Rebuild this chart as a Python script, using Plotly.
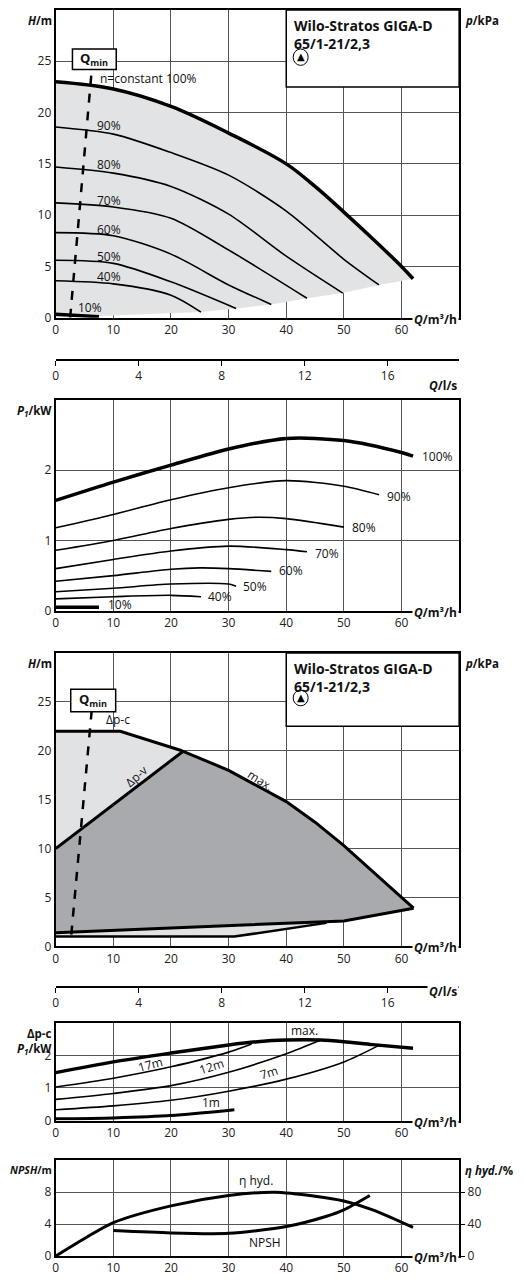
import plotly.graph_objects as go

# -- ---------------------------------------------------------------- datos -- #
q_100 = [0, 10, 20, 30, 40, 45, 50, 55, 60, 62]
h_100 = [23, 22.3, 20.6, 18, 15, 12.8, 10.3, 7.7, 5, 3.8]
q_90 = [0, 10, 20, 30, 40, 50, 56.1]
h_90 = [18.6, 17.9, 16.1, 13.9, 10.4, 5.7, 3.2]
q_80 = [0, 10, 20, 30, 40, 49.8]
h_80 = [14.7, 14.1, 12.8, 10.1, 6.0, 2.4]
q_70 = [0, 10, 20, 30, 43.6]
h_70 = [11.2, 10.8, 9.7, 6.6, 1.9]
q_60 = [0, 10, 20, 30, 37.4]
h_60 = [8.3, 8.0, 6.2, 3.2, 1.3]
q_50 = [0, 10, 20, 31.3]
h_50 = [5.6, 5.3, 3.5, 0.9]
q_40 = [0, 10, 20, 25.2]
h_40 = [3.6, 3.3, 2.2, 0.55]
q_10 = [0, 7.5]
h_10 = [0.35, 0.1]
q_low = [0, 25.2, 31.3, 37.4, 43.6, 49.8, 56.1, 62]
h_low = [0, 0.55, 0.9, 1.3, 1.9, 2.4, 3.2, 3.8]
q_qmin1 = [2.5, 6.3]
h_qmin1 = [0, 24.5]

q_p100 = [0, 10, 20, 30, 40, 50, 60, 62]
p_100 = [1.57, 1.83, 2.07, 2.3, 2.45, 2.42, 2.25, 2.2]
q_p90 = [0, 10, 20, 30, 40, 50, 56.1]
p_90 = [1.18, 1.37, 1.58, 1.75, 1.85, 1.77, 1.65]
q_p80 = [0, 10, 20, 30, 35, 40, 50]
p_80 = [0.86, 1.0, 1.17, 1.3, 1.33, 1.31, 1.19]
q_p70 = [0, 10, 20, 30, 40, 43.6]
p_70 = [0.6, 0.73, 0.85, 0.92, 0.87, 0.84]
q_p60 = [0, 10, 20, 25, 30, 37.4]
p_60 = [0.42, 0.5, 0.59, 0.61, 0.6, 0.56]
q_p50 = [0, 10, 20, 30, 31.3]
p_50 = [0.27, 0.32, 0.38, 0.38, 0.35]
q_p40 = [0, 10, 20, 25.2]
p_40 = [0.17, 0.2, 0.22, 0.2]
q_p10 = [0, 7.5]
p_10 = [0.05, 0.05]

q_max = [21.9, 30, 40, 45, 50, 55, 60, 62.1]
h_max = [20, 18, 14.8, 12.7, 10.3, 7.7, 5, 3.9]
q_dpc = [0, 11.2, 21.9]
h_dpc = [22, 22, 20]
q_dpv = [0, 22]
h_dpv = [10, 19.9]
q_min_line = [0, 50, 62.1]
h_min_line = [1.4, 2.6, 3.9]
q_min_low = [0, 31, 47]
h_min_low = [1.0, 1.0, 2.4]
q_qmin2 = [2.7, 6.3]
h_qmin2 = [1.2, 24.5]

q_pmax = [0, 10, 20, 30, 35, 40, 46, 50, 55, 62]
p_max = [1.47, 1.8, 2.07, 2.32, 2.42, 2.47, 2.47, 2.42, 2.33, 2.22]
q_17 = [0, 10, 20, 30, 34]
p_17 = [1.03, 1.3, 1.65, 2.1, 2.35]
q_12 = [0, 10, 20, 30, 40, 46]
p_12 = [0.65, 0.83, 1.07, 1.48, 2.05, 2.47]
q_7 = [0, 10, 20, 30, 40, 50, 56]
p_7 = [0.33, 0.45, 0.62, 0.9, 1.27, 1.8, 2.3]
q_1 = [0, 10, 20, 31]
p_1 = [0.05, 0.08, 0.15, 0.33]

q_eta = [0, 5, 10, 20, 30, 38, 45, 50, 55, 62]
eta = [0, 22, 42, 63, 76, 80, 75, 69, 58, 36]
q_npsh = [10, 20, 27, 30, 40, 47, 50, 54.5]
npsh = [3.2, 2.9, 2.8, 2.85, 3.7, 5.0, 5.8, 7.6]

q_ticks = [0, 10, 20, 30, 40, 50, 60]
ls_ticks = [0, 4, 8, 12, 16]

# -- ---------------------------------------------------------------- figura -- #
OFF = 8    # margen vertical del body de la pagina
OFFX = 10  # corrimiento horizontal observado
MB = 6
PH = 1280 - MB


def f(y):
    return min(1.0, (PH - (y - OFF)) / PH)


XD = [(55 - OFFX) / 525, (460.7 - OFFX) / 525]
FONT = "Open Sans"
GRID = "#555555"
fig = go.Figure()


def linea(x, y, xa, ya, w=1.6, dash=None, shape="spline"):
    fig.add_trace(go.Scatter(x=x, y=y, xaxis=xa, yaxis=ya, mode="lines",
                             line=dict(color="black", width=w, dash=dash, shape=shape, smoothing=0.8),
                             showlegend=False, hoverinfo="skip"))


# Panel 1: curvas H
fig.add_trace(go.Scatter(x=q_low, y=h_low, xaxis="x", yaxis="y", mode="lines", line=dict(width=0),
                         showlegend=False))
fig.add_trace(go.Scatter(x=q_100, y=h_100, xaxis="x", yaxis="y", mode="lines", fill="tonexty",
                         fillcolor="#e2e3e5", line=dict(color="black", width=3.5, shape="spline"),
                         showlegend=False))
for qq, hh in [(q_90, h_90), (q_80, h_80), (q_70, h_70), (q_60, h_60), (q_50, h_50), (q_40, h_40)]:
    linea(qq, hh, "x", "y")
linea(q_10, h_10, "x", "y", w=3.5)
linea(q_qmin1, h_qmin1, "x", "y", w=2.5, dash="dash", shape="linear")

# Panel 3: P1
linea(q_p100, p_100, "x3", "y3", w=3.5)
for qq, pp in [(q_p90, p_90), (q_p80, p_80), (q_p70, p_70), (q_p60, p_60), (q_p50, p_50), (q_p40, p_40)]:
    linea(qq, pp, "x3", "y3")
linea(q_p10, p_10, "x3", "y3", w=3.5)

# Panel 4: regulacion
env_q = q_dpc + q_max[1:] + q_min_line[1:2] + q_min_low[::-1][1:]
env_h = h_dpc + h_max[1:] + h_min_line[1:2] + h_min_low[::-1][1:]
fig.add_trace(go.Scatter(x=env_q, y=env_h, xaxis="x4", yaxis="y4", mode="lines", fill="toself",
                         fillcolor="#e1e2e4", line=dict(width=0), showlegend=False))
dark_q = q_dpv + q_max[1:] + q_min_line[::-1][1:]
dark_h = h_dpv + h_max[1:] + h_min_line[::-1][1:]
fig.add_trace(go.Scatter(x=dark_q, y=dark_h, xaxis="x4", yaxis="y4", mode="lines", fill="toself",
                         fillcolor="#a9aaad", line=dict(width=0), showlegend=False))
for qq, hh in [(q_dpc, h_dpc), (q_max, h_max), (q_dpv, h_dpv), (q_min_line, h_min_line)]:
    linea(qq, hh, "x4", "y4", w=3, shape="linear")
linea(q_min_low, h_min_low, "x4", "y4", w=2.5, shape="linear")
linea(q_qmin2, h_qmin2, "x4", "y4", w=2.5, dash="dash", shape="linear")

# Panel 6: P1 dp-c
linea(q_pmax, p_max, "x6", "y6", w=3.5)
for qq, pp in [(q_17, p_17), (q_12, p_12), (q_7, p_7)]:
    linea(qq, pp, "x6", "y6")
linea(q_1, p_1, "x6", "y6", w=3)

# Panel 7: NPSH / eta
linea(q_npsh, npsh, "x7", "y7", w=3)
linea(q_eta, eta, "x7", "y8", w=3)

# ejes Q/l/s (trazas invisibles para que se dibujen)
for xa, ya in [("x2", "y9"), ("x5", "y10")]:
    fig.add_trace(go.Scatter(x=[0], y=[0], xaxis=xa, yaxis=ya, mode="markers",
                             marker=dict(opacity=0), showlegend=False, hoverinfo="skip"))

# -- ---------------------------------------------------------------- ejes -- #
ax_font = dict(family=FONT, size=12, color="#222")
panels = {
    "": (1, 316.7, 30, 5), "3": (399, 610.7, 3, 1), "4": (653, 947.3, 30, 5),
    "6": (1024, 1122, 3, 1), "7": (1162, 1258, 12, 4),
}
lay = {}
for k, (top, bot, ymax, dy) in panels.items():
    lay["xaxis" + k] = dict(domain=XD, anchor="y" + k, range=[0, 70], tickvals=q_ticks,
                            showgrid=True, gridcolor=GRID, gridwidth=1, showline=True, linecolor="black",
                            linewidth=2, mirror=True, ticks="", tickfont=ax_font, zeroline=False)
    lay["yaxis" + k] = dict(domain=[f(bot), f(top)], anchor="x" + k, range=[0, ymax],
                            tickvals=list(range(0, ymax, dy)),
                            showgrid=True, gridcolor=GRID, gridwidth=1, showline=True, linecolor="black",
                            linewidth=2, mirror=True, ticks="", tickfont=ax_font, zeroline=False)
lay["yaxis7"]["tickvals"] = [0, 4, 8]
for k, ov, base, top, bot, ymax, vals in [("2", "y", "x", 1, 316.7, 300, [0, 50, 100, 150, 200, 250]),
                                          ("5", "y4", "x4", 653, 947.3, 300, [0, 50, 100, 150, 200, 250]),
                                          ("8", "y7", "x7", 1162, 1258, 120, [0, 40, 80])]:
    lay["yaxis" + k] = dict(domain=[f(bot), f(top)], anchor=base, overlaying=ov,
                            side="right", range=[0, ymax], tickvals=vals, ticks="outside", ticklen=5,
                            tickcolor="black", showgrid=False, tickfont=ax_font, zeroline=False)
for xk, yk, ypos in [("2", "9", 358), ("5", "10", 987)]:
    lay["yaxis" + yk] = dict(domain=[f(ypos), f(ypos) + 0.001], anchor="x" + xk, visible=False, range=[0, 1])
    lay["xaxis" + xk] = dict(domain=XD, anchor="y" + yk, range=[0, 70 / 3.6],
                             tickvals=ls_ticks, showline=True, linecolor="black", linewidth=1.5,
                             ticks="outside", ticklen=5, tickcolor="black", showgrid=False,
                             tickfont=ax_font, zeroline=False)
fig.update_layout(**lay)

# -- ---------------------------------------------------------------- textos -- #
ann = []


def txt(x, y, s, xr, yr, size=12, xanchor="left", angle=0):
    ann.append(dict(x=x, y=y, xref=xr, yref=yr, text=s, showarrow=False,
                    xanchor=xanchor, textangle=angle, font=dict(family=FONT, size=size, color="#111")))


for k in ["", "3", "4", "6", "7"]:
    ann.append(dict(x=XD[1], y=0, xref="paper", yref="y%s domain" % k, yshift=-12, xanchor="right",
                    showarrow=False, text="<b><i>Q</i>/m³/h</b>", bgcolor="white",
                    font=dict(family=FONT, size=12, color="#111")))
for t in [358, 987]:
    ann.append(dict(x=XD[1], y=f(t), xref="paper", yref="paper", yshift=-16, xanchor="right", showarrow=False,
                    text="<b><i>Q</i>/l/s</b>", bgcolor="white", font=dict(family=FONT, size=12, color="#111")))
ylab = [(1, "<b><i>H</i>/m</b>", 11.5), (399, "<b><i>P<sub>1</sub></i>/kW</b>", 11.5),
        (653, "<b><i>H</i>/m</b>", 11.5), (1024, "<b>Δp-c<br><i>P<sub>1</sub></i>/kW</b>", 11.5),
        (1162, "<b><i>NPSH</i>/m</b>", 10.5)]
for t, s, sz in ylab:
    ann.append(dict(x=XD[0] - 0.004, y=f(t), xref="paper", yref="paper", xanchor="right", yanchor="top",
                    showarrow=False, text=s, align="right", yshift=-1,
                    font=dict(family=FONT, size=sz, color="#111")))
for t, s in [(1, "<b><i>p</i>/kPa</b>"), (653, "<b><i>p</i>/kPa</b>"), (1162, "<b><i>η hyd.</i>/%</b>")]:
    ann.append(dict(x=XD[1] + 0.008, y=f(t), xref="paper", yref="paper", xanchor="left", yanchor="top",
                    showarrow=False, text=s, yshift=-1, font=dict(family=FONT, size=11.5, color="#111")))

txt(7.3, 23.3, "n=constant 100%", "x", "y")
for yy, s in [(18.7, "90%"), (14.9, "80%"), (11.4, "70%"), (8.6, "60%"), (6.0, "50%"), (4.0, "40%")]:
    txt(6.8, yy, s, "x", "y")
txt(3.6, 0.95, "10%", "x", "y")
for qq, pp, s in [(63.2, 2.19, "100%"), (57.2, 1.62, "90%"), (51, 1.18, "80%"), (44.6, 0.81, "70%"),
                  (38.4, 0.57, "60%"), (32.2, 0.35, "50%"), (26, 0.2, "40%"), (8.7, 0.095, "10%")]:
    txt(qq, pp, s, "x3", "y3")
txt(10.8, 23.2, "Δp-c", "x4", "y4", xanchor="center")
txt(13.9, 17.4, "Δp-v", "x4", "y4", xanchor="center", angle=-42)
txt(35.6, 17.0, "max.", "x4", "y4", xanchor="center", angle=33)
txt(43.2, 2.75, "max.", "x6", "y6", xanchor="center")
txt(16.4, 1.72, "17m", "x6", "y6", xanchor="center", angle=-15)
txt(27, 1.67, "12m", "x6", "y6", xanchor="center", angle=-18)
txt(37, 1.46, "7m", "x6", "y6", xanchor="center", angle=-18)
txt(27, 0.54, "1m", "x6", "y6", xanchor="center")
txt(34.8, 9.5, "η hyd.", "x7", "y7", xanchor="center")
txt(36.3, 1.65, "NPSH", "x7", "y7", xanchor="center")

shapes = []
for xr, yr, qm in [("x", "y", (2.9, 10.5, 24.2, 26.2)), ("x4", "y4", (2.6, 10.4, 24.0, 26.3))]:
    shapes.append(dict(type="rect", xref=xr, yref=yr, x0=40, x1=70, y0=22.5, y1=30,
                       fillcolor="white", line=dict(color="black", width=1.5), layer="above"))
    shapes.append(dict(type="rect", xref=xr, yref=yr, x0=qm[0], x1=qm[1], y0=qm[2], y1=qm[3],
                       fillcolor="white", line=dict(color="black", width=1.5), layer="above"))
    shapes.append(dict(type="circle", xref=xr, yref=yr, x0=41.2, x1=43.8, y0=24.6, y1=26.2,
                       fillcolor="white", line=dict(color="black", width=1), layer="above"))
    ann.append(dict(x=(qm[0] + qm[1]) / 2, y=(qm[2] + qm[3]) / 2, xref=xr, yref=yr, showarrow=False,
                    text="<b>Q<sub>min</sub></b>", font=dict(family=FONT, size=13, color="#111")))
    ann.append(dict(x=41, y=29.6, xref=xr, yref=yr, showarrow=False, xanchor="left", yanchor="top",
                    align="left", text="<b>Wilo-Stratos GIGA-D<br>65/1-21/2,3</b>",
                    font=dict(family=FONT, size=14, color="#111")))
    ann.append(dict(x=42.5, y=25.45, xref=xr, yref=yr, showarrow=False, text="▲",
                    font=dict(family="DejaVu Sans", size=10, color="black")))
fig.update_layout(annotations=ann, shapes=shapes, width=525, height=1280,
                  margin=dict(l=0, r=0, t=0, b=MB), plot_bgcolor="white", paper_bgcolor="white")

fig.write_html("out.html")
